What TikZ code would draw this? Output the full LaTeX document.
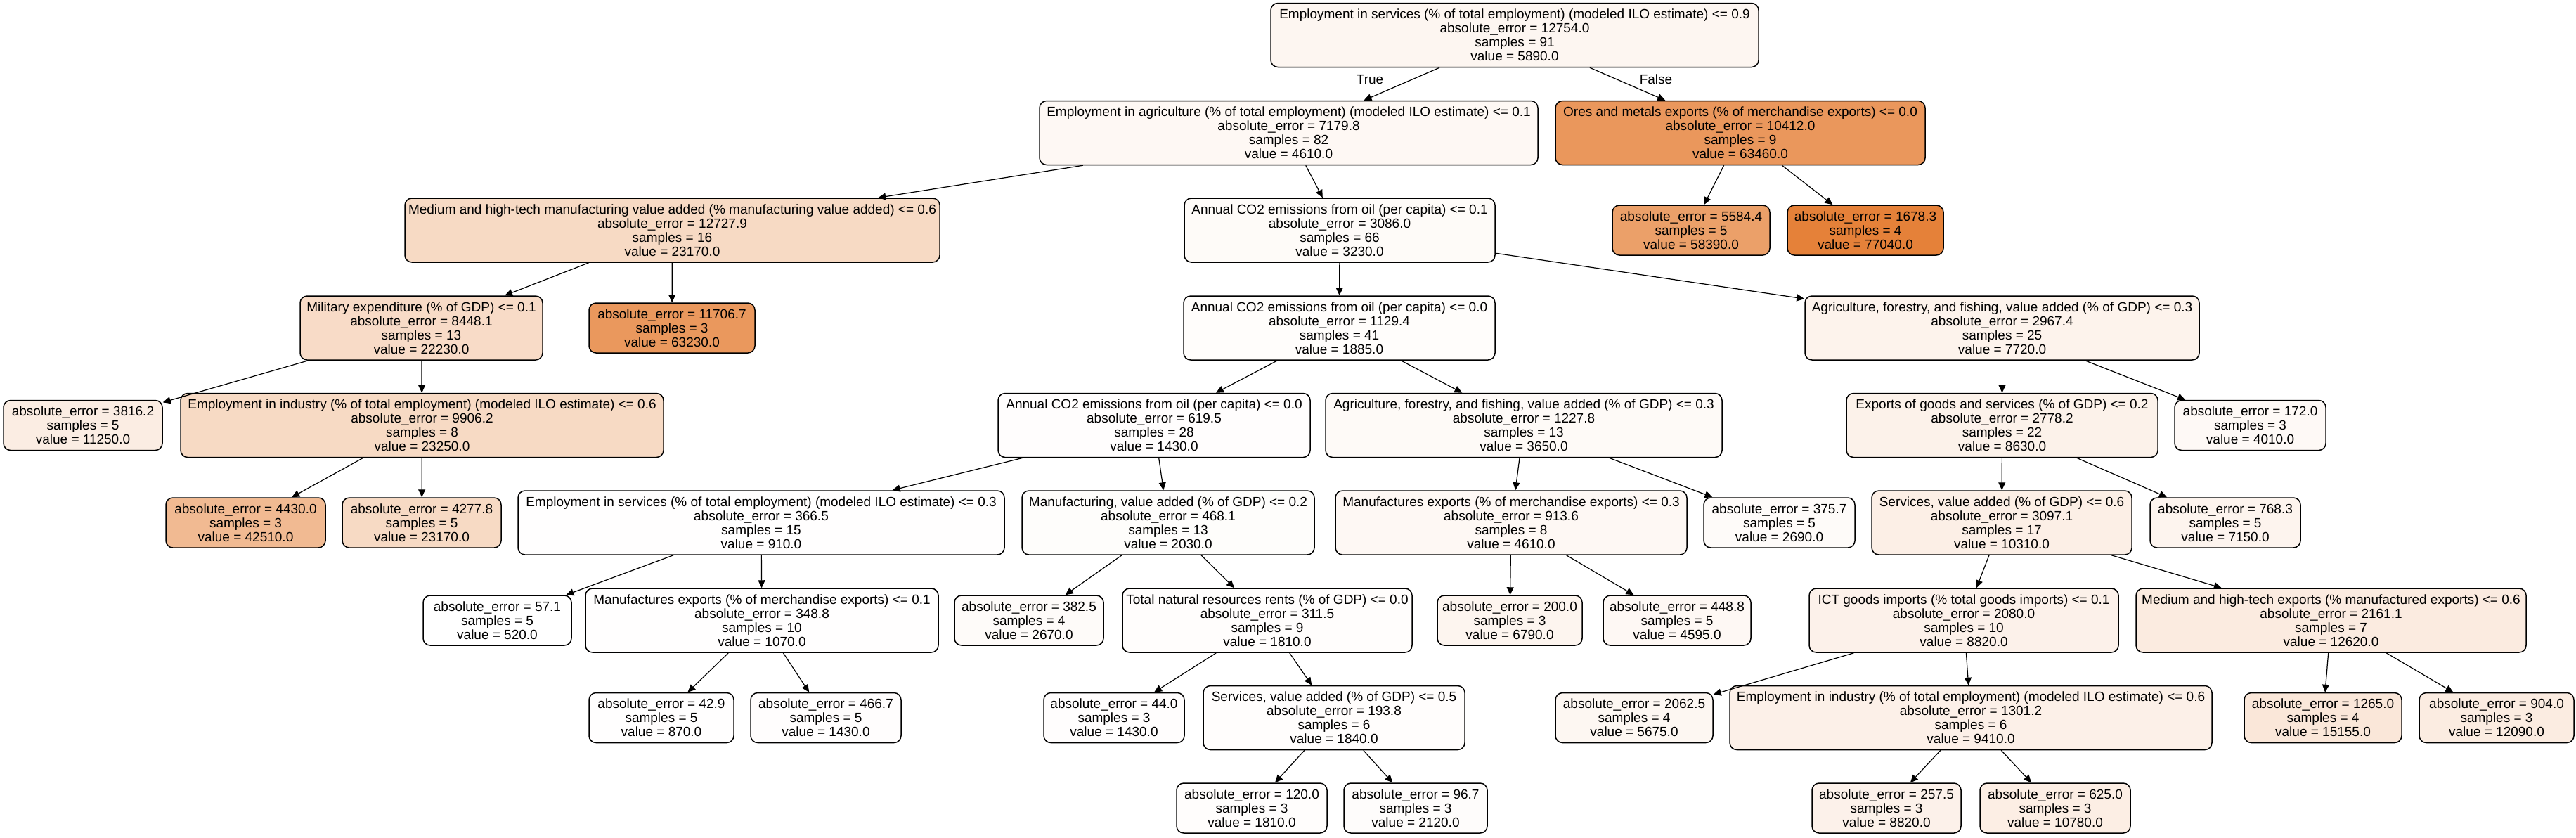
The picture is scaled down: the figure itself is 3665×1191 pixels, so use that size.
\documentclass[tikz,border=0pt]{standalone}
\usepackage{fontspec}
\setmainfont{Liberation Sans}
\usetikzlibrary{arrows.meta}
\definecolor{c0}{RGB}{253,246,241}
\definecolor{c1}{RGB}{254,248,244}
\definecolor{c2}{RGB}{234,151,92}
\definecolor{c3}{RGB}{247,218,196}
\definecolor{c4}{RGB}{254,251,248}
\definecolor{c5}{RGB}{235,160,105}
\definecolor{c6}{RGB}{229,129,57}
\definecolor{c7}{RGB}{248,219,199}
\definecolor{c8}{RGB}{234,152,93}
\definecolor{c9}{RGB}{255,253,251}
\definecolor{c10}{RGB}{253,243,236}
\definecolor{c11}{RGB}{251,237,227}
\definecolor{c12}{RGB}{247,218,196}
\definecolor{c13}{RGB}{255,253,253}
\definecolor{c14}{RGB}{254,250,247}
\definecolor{c15}{RGB}{252,242,234}
\definecolor{c16}{RGB}{254,249,246}
\definecolor{c17}{RGB}{241,186,146}
\definecolor{c18}{RGB}{247,218,196}
\definecolor{c19}{RGB}{255,254,254}
\definecolor{c20}{RGB}{254,253,251}
\definecolor{c21}{RGB}{254,248,244}
\definecolor{c22}{RGB}{254,251,249}
\definecolor{c23}{RGB}{252,239,230}
\definecolor{c24}{RGB}{253,244,238}
\definecolor{c25}{RGB}{255,255,255}
\definecolor{c26}{RGB}{255,254,254}
\definecolor{c27}{RGB}{254,251,249}
\definecolor{c28}{RGB}{255,253,252}
\definecolor{c29}{RGB}{253,245,239}
\definecolor{c30}{RGB}{254,248,244}
\definecolor{c31}{RGB}{252,241,234}
\definecolor{c32}{RGB}{251,235,224}
\definecolor{c33}{RGB}{255,254,254}
\definecolor{c34}{RGB}{255,253,253}
\definecolor{c35}{RGB}{255,253,253}
\definecolor{c36}{RGB}{255,253,252}
\definecolor{c37}{RGB}{253,247,242}
\definecolor{c38}{RGB}{252,240,232}
\definecolor{c39}{RGB}{250,231,217}
\definecolor{c40}{RGB}{251,236,225}
\definecolor{c41}{RGB}{255,253,252}
\definecolor{c42}{RGB}{254,252,251}
\definecolor{c43}{RGB}{252,241,234}
\definecolor{c44}{RGB}{252,238,228}
\tikzset{
  tn/.style={draw=black, line width=0.75pt, rounded corners=5pt, align=center,
    inner sep=0pt, font=\fontsize{9.5}{10}\selectfont},
  split/.style={tn, minimum height=45.5pt},
  leaf/.style={tn, minimum height=35.5pt},
  conn/.style={-{Triangle[length=5.5pt,width=5pt]}, line width=0.6pt},
  lbl/.style={font=\fontsize{9.5}{10}\selectfont, inner sep=0pt}
}
\begin{document}
\begin{tikzpicture}[x=0.5pt,y=-0.5pt]
\useasboundingbox[fill=white] (0,0) rectangle (3665,1191);
% row 1
\node[split, minimum width=347pt, fill=c0] (n0) at (2155,50) {Employment in services (\% of total employment) (modeled ILO estimate) <= 0.9\\absolute\_error = 12754.0\\samples = 91\\value = 5890.0};
% row 2
\node[split, minimum width=354.5pt, fill=c1] (n1) at (1833.5,189) {Employment in agriculture (\% of total employment) (modeled ILO estimate) <= 0.1\\absolute\_error = 7179.8\\samples = 82\\value = 4610.0};
\node[split, minimum width=263pt, fill=c2] (n2) at (2476,189) {Ores and metals exports (\% of merchandise exports) <= 0.0\\absolute\_error = 10412.0\\samples = 9\\value = 63460.0};
% row 3
\node[split, minimum width=380.5pt, fill=c3] (n3) at (956.5,327.5) {Medium and high-tech manufacturing value added (\% manufacturing value added) <= 0.6\\absolute\_error = 12727.9\\samples = 16\\value = 23170.0};
\node[split, minimum width=221pt, fill=c4] (n4) at (1906,327.5) {Annual CO2 emissions from oil (per capita) <= 0.1\\absolute\_error = 3086.0\\samples = 66\\value = 3230.0};
\node[leaf, minimum width=112pt, fill=c5] (n5) at (2406,327.5) {absolute\_error = 5584.4\\samples = 5\\value = 58390.0};
\node[leaf, minimum width=111pt, fill=c6] (n6) at (2654,327.5) {absolute\_error = 1678.3\\samples = 4\\value = 77040.0};
% row 4
\node[split, minimum width=172.5pt, fill=c7] (n7) at (599.5,466.5) {Military expenditure (\% of GDP) <= 0.1\\absolute\_error = 8448.1\\samples = 13\\value = 22230.0};
\node[leaf, minimum width=118pt, fill=c8] (n8) at (956,466.5) {absolute\_error = 11706.7\\samples = 3\\value = 63230.0};
\node[split, minimum width=221.5pt, fill=c9] (n9) at (1905.5,466.5) {Annual CO2 emissions from oil (per capita) <= 0.0\\absolute\_error = 1129.4\\samples = 41\\value = 1885.0};
\node[split, minimum width=280.5pt, fill=c10] (n10) at (2848.5,466.5) {Agriculture, forestry, and fishing, value added (\% of GDP) <= 0.3\\absolute\_error = 2967.4\\samples = 25\\value = 7720.0};
% row 5
\node[leaf, minimum width=113pt, fill=c11] (n11) at (118,605) {absolute\_error = 3816.2\\samples = 5\\value = 11250.0};
\node[split, minimum width=343.5pt, fill=c12] (n12) at (600.5,605) {Employment in industry (\% of total employment) (modeled ILO estimate) <= 0.6\\absolute\_error = 9906.2\\samples = 8\\value = 23250.0};
\node[split, minimum width=222pt, fill=c13] (n13) at (1642,605) {Annual CO2 emissions from oil (per capita) <= 0.0\\absolute\_error = 619.5\\samples = 28\\value = 1430.0};
\node[split, minimum width=282pt, fill=c14] (n14) at (2168,605) {Agriculture, forestry, and fishing, value added (\% of GDP) <= 0.3\\absolute\_error = 1227.8\\samples = 13\\value = 3650.0};
\node[split, minimum width=221.5pt, fill=c15] (n15) at (2848.5,605) {Exports of goods and services (\% of GDP) <= 0.2\\absolute\_error = 2778.2\\samples = 22\\value = 8630.0};
\node[leaf, minimum width=107.5pt, fill=c16] (n16) at (3201.5,605) {absolute\_error = 172.0\\samples = 3\\value = 4010.0};
% row 6
\node[leaf, minimum width=113.5pt, fill=c17] (n17) at (349.5,743.5) {absolute\_error = 4430.0\\samples = 3\\value = 42510.0};
\node[leaf, minimum width=113pt, fill=c18] (n18) at (600,743.5) {absolute\_error = 4277.8\\samples = 5\\value = 23170.0};
\node[split, minimum width=346pt, fill=c19] (n19) at (1083,743.5) {Employment in services (\% of total employment) (modeled ILO estimate) <= 0.3\\absolute\_error = 366.5\\samples = 15\\value = 910.0};
\node[split, minimum width=208pt, fill=c20] (n20) at (1662,743.5) {Manufacturing, value added (\% of GDP) <= 0.2\\absolute\_error = 468.1\\samples = 13\\value = 2030.0};
\node[split, minimum width=250pt, fill=c21] (n21) at (2150,743.5) {Manufactures exports (\% of merchandise exports) <= 0.3\\absolute\_error = 913.6\\samples = 8\\value = 4610.0};
\node[leaf, minimum width=107.5pt, fill=c22] (n22) at (2531.5,743.5) {absolute\_error = 375.7\\samples = 5\\value = 2690.0};
\node[split, minimum width=185pt, fill=c23] (n23) at (2848,743.5) {Services, value added (\% of GDP) <= 0.6\\absolute\_error = 3097.1\\samples = 17\\value = 10310.0};
\node[leaf, minimum width=107pt, fill=c24] (n24) at (3166,743.5) {absolute\_error = 768.3\\samples = 5\\value = 7150.0};
% row 7
\node[leaf, minimum width=105.5pt, fill=c25] (n25) at (707.5,882.5) {absolute\_error = 57.1\\samples = 5\\value = 520.0};
\node[split, minimum width=251pt, fill=c26] (n26) at (1084,882.5) {Manufactures exports (\% of merchandise exports) <= 0.1\\absolute\_error = 348.8\\samples = 10\\value = 1070.0};
\node[leaf, minimum width=106pt, fill=c27] (n27) at (1464,882.5) {absolute\_error = 382.5\\samples = 4\\value = 2670.0};
\node[split, minimum width=206pt, fill=c28] (n28) at (1803,882.5) {Total natural resources rents (\% of GDP) <= 0.0\\absolute\_error = 311.5\\samples = 9\\value = 1810.0};
\node[leaf, minimum width=103pt, fill=c29] (n29) at (2148,882.5) {absolute\_error = 200.0\\samples = 3\\value = 6790.0};
\node[leaf, minimum width=105pt, fill=c30] (n30) at (2386,882.5) {absolute\_error = 448.8\\samples = 5\\value = 4595.0};
\node[split, minimum width=220pt, fill=c31] (n31) at (2794,882.5) {ICT goods imports (\% total goods imports) <= 0.1\\absolute\_error = 2080.0\\samples = 10\\value = 8820.0};
\node[split, minimum width=277.5pt, fill=c32] (n32) at (3316.5,882.5) {Medium and high-tech exports (\% manufactured exports) <= 0.6\\absolute\_error = 2161.1\\samples = 7\\value = 12620.0};
% row 8
\node[leaf, minimum width=103pt, fill=c33] (n33) at (941,1021) {absolute\_error = 42.9\\samples = 5\\value = 870.0};
\node[leaf, minimum width=107pt, fill=c34] (n34) at (1175,1021) {absolute\_error = 466.7\\samples = 5\\value = 1430.0};
\node[leaf, minimum width=100pt, fill=c35] (n35) at (1585,1021) {absolute\_error = 44.0\\samples = 3\\value = 1430.0};
\node[split, minimum width=186pt, fill=c36] (n36) at (1898,1021) {Services, value added (\% of GDP) <= 0.5\\absolute\_error = 193.8\\samples = 6\\value = 1840.0};
\node[leaf, minimum width=112pt, fill=c37] (n37) at (2325,1021) {absolute\_error = 2062.5\\samples = 4\\value = 5675.0};
\node[split, minimum width=343pt, fill=c38] (n38) at (2804,1021) {Employment in industry (\% of total employment) (modeled ILO estimate) <= 0.6\\absolute\_error = 1301.2\\samples = 6\\value = 9410.0};
\node[leaf, minimum width=112pt, fill=c39] (n39) at (3305,1021) {absolute\_error = 1265.0\\samples = 4\\value = 15155.0};
\node[leaf, minimum width=110pt, fill=c40] (n40) at (3552,1021) {absolute\_error = 904.0\\samples = 3\\value = 12090.0};
% row 9
\node[leaf, minimum width=107pt, fill=c41] (n41) at (1781,1149.5) {absolute\_error = 120.0\\samples = 3\\value = 1810.0};
\node[leaf, minimum width=102pt, fill=c42] (n42) at (2014,1149.5) {absolute\_error = 96.7\\samples = 3\\value = 2120.0};
\node[leaf, minimum width=106pt, fill=c43] (n43) at (2684,1149.5) {absolute\_error = 257.5\\samples = 3\\value = 8820.0};
\node[leaf, minimum width=107pt, fill=c44] (n44) at (2924,1149.5) {absolute\_error = 625.0\\samples = 3\\value = 10780.0};
% labels
\node[lbl] (ltrue) at (1949,113) {True};
\node[lbl] (lfalse) at (2356,113) {False};
% edges
\foreach \a/\b in {n0/n1,n0/n2,n1/n3,n1/n4,n2/n5,n2/n6,n3/n7,n3/n8,n4/n9,n4/n10,
  n7/n11,n7/n12,n9/n13,n9/n14,n10/n15,n10/n16,n12/n17,n12/n18,n13/n19,n13/n20,
  n14/n21,n14/n22,n15/n23,n15/n24,n19/n25,n19/n26,n20/n27,n20/n28,n21/n29,n21/n30,
  n23/n31,n23/n32,n26/n33,n26/n34,n28/n35,n28/n36,n31/n37,n31/n38,n32/n39,n32/n40,
  n36/n41,n36/n42,n38/n43,n38/n44}
  \draw[conn] (\a) -- (\b);
\end{tikzpicture}
\end{document}
